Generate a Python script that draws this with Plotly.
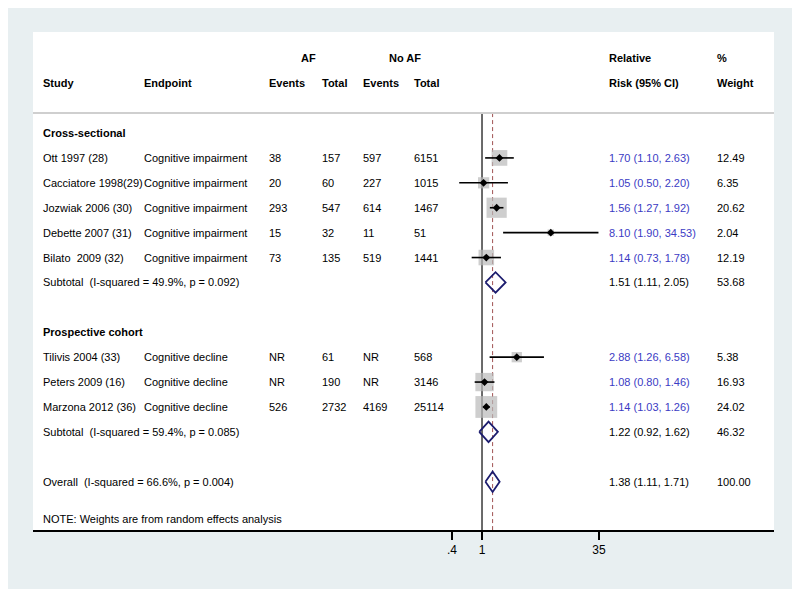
import plotly.graph_objects as go

# ---------------- data ----------------
studies = ["Ott 1997 (28)", "Cacciatore 1998(29)", "Jozwiak 2006 (30)", "Debette 2007 (31)",
           "Bilato\u00a0 2009 (32)", "Tilivis 2004 (33)", "Peters 2009 (16)", "Marzona 2012 (36)"]
endpoints = ["Cognitive impairment"] * 5 + ["Cognitive decline"] * 3
af_events = ["38", "20", "293", "15", "73", "NR", "NR", "526"]
af_total = ["157", "60", "547", "32", "135", "61", "190", "2732"]
noaf_events = ["597", "227", "614", "11", "519", "NR", "NR", "4169"]
noaf_total = ["6151", "1015", "1467", "51", "1441", "568", "3146", "25114"]
rr = [1.70, 1.05, 1.56, 8.10, 1.14, 2.88, 1.08, 1.14]
rr_lo = [1.10, 0.50, 1.27, 1.90, 0.73, 1.26, 0.80, 1.03]
rr_hi = [2.63, 2.20, 1.92, 34.53, 1.78, 6.58, 1.46, 1.26]
weights = [12.49, 6.35, 20.62, 2.04, 12.19, 5.38, 16.93, 24.02]
study_rows = [1, 2, 3, 4, 5, 9, 10, 11]

groups = ["Cross-sectional", "Prospective cohort"]
group_rows = [0, 8]

pooled_labels = ["Subtotal\u00a0 (I-squared = 49.9%, p = 0.092)",
                 "Subtotal\u00a0 (I-squared = 59.4%, p = 0.085)",
                 "Overall\u00a0 (I-squared = 66.6%, p = 0.004)"]
pooled_rr = [1.51, 1.22, 1.38]
pooled_lo = [1.11, 0.92, 1.11]
pooled_hi = [2.05, 1.62, 1.71]
pooled_w = [53.68, 46.32, 100.00]
pooled_rows = [6, 12, 14]

tick_vals = [0.4, 1, 35]
tick_text = [".4", "1", "35"]

# ---------------- layout constants ----------------
OFF = 8                      # page body margin
W, H = 800 - OFF, 597 - OFF
PANEL_L, PANEL_R, PANEL_T, PANEL_B = 33, 774, 32, 530   # window pixel coords
L = PANEL_L - OFF
T = PANEL_T - OFF
R = W - (PANEL_R - OFF)
B = H - (PANEL_B - OFF)
PW = W - L - R
PH = H - T - B
X_RANGE = [-5.931, 3.857]       # log10
Y_RANGE = [15.94, -4.056]       # rows, reversed
BLUE = "#3b3bc4"
NAVY = "#1c1c6e"
GREY_BOX = "#b9b9b9"
FONT = "Liberation Sans, Arial, sans-serif"


def px2paper(px):
    return (px - PANEL_L) / PW


def py2paper(py):
    return (PANEL_B - py) / PH


fig = go.Figure()

# reference lines
fig.add_trace(go.Scatter(x=[1, 1], y=[-0.8, Y_RANGE[0]], mode="lines",
                         line=dict(color="#3a3a3a", width=1.5), hoverinfo="skip"))
fig.add_trace(go.Scatter(x=[pooled_rr[2], pooled_rr[2]], y=[-0.8, Y_RANGE[0]], mode="lines",
                         line=dict(color="#a05252", width=1, dash="4px,3px"), hoverinfo="skip"))

# weight boxes
fig.add_trace(go.Scatter(x=rr, y=study_rows, mode="markers",
                         marker=dict(symbol="square", color=GREY_BOX,
                                     size=[4.45 * w ** 0.5 for w in weights],
                                     line=dict(width=0)),
                         hoverinfo="skip"))

# CI lines
for e, lo, hi, r in zip(rr, rr_lo, rr_hi, study_rows):
    fig.add_trace(go.Scatter(x=[lo, hi], y=[r, r], mode="lines",
                             line=dict(color="black", width=1.6), hoverinfo="skip"))

# point estimates
fig.add_trace(go.Scatter(x=rr, y=study_rows, mode="markers",
                         marker=dict(symbol="diamond", color="black", size=6),
                         hoverinfo="skip"))

# pooled diamonds
for e, lo, hi, r in zip(pooled_rr, pooled_lo, pooled_hi, pooled_rows):
    fig.add_trace(go.Scatter(x=[lo, e, hi, e, lo], y=[r, r - 0.41, r, r + 0.41, r],
                             mode="lines", line=dict(color=NAVY, width=1.8),
                             hoverinfo="skip"))

annotations = []


def txt(px, row, text, bold=False, color="black", anchor="left", size=11):
    annotations.append(dict(
        x=px2paper(px - 1 if anchor == "left" else px), xref="paper", y=row, yref="y",
        text=f"<b>{text}</b>" if bold else text,
        showarrow=False, xanchor=anchor, yanchor="middle",
        font=dict(family=FONT, size=size, color=color), borderpad=0))


# header
txt(308, -3, "AF", bold=True, anchor="center")
txt(405, -3, "No AF", bold=True, anchor="center")
txt(609, -3, "Relative", bold=True)
txt(717, -3, "%", bold=True)
for px, t in zip([43, 144, 269, 322, 363, 414, 609, 717],
                 ["Study", "Endpoint", "Events", "Total", "Events", "Total",
                  "Risk (95% CI)", "Weight"]):
    txt(px, -2, t, bold=True)

for g, r in zip(groups, group_rows):
    txt(43, r, g, bold=True)

for i, r in enumerate(study_rows):
    txt(43, r, studies[i])
    txt(144, r, endpoints[i])
    txt(269, r, af_events[i])
    txt(322, r, af_total[i])
    txt(363, r, noaf_events[i])
    txt(414, r, noaf_total[i])
    txt(609, r, f"{rr[i]:.2f} ({rr_lo[i]:.2f}, {rr_hi[i]:.2f})", color=BLUE)
    txt(717, r, f"{weights[i]:.2f}")

for i, r in enumerate(pooled_rows):
    txt(43, r, pooled_labels[i])
    txt(609, r, f"{pooled_rr[i]:.2f} ({pooled_lo[i]:.2f}, {pooled_hi[i]:.2f})")
    txt(717, r, f"{pooled_w[i]:.2f}")

txt(43, 15.5, "NOTE: Weights are from random effects analysis")

shapes = [
    # outer grey region
    dict(type="rect", xref="paper", yref="paper",
         x0=px2paper(8), x1=px2paper(793), y0=py2paper(589), y1=py2paper(4),
         fillcolor="#e8eff1", line=dict(width=0), layer="below"),
    # white panel
    dict(type="rect", xref="paper", yref="paper", x0=0, x1=1, y0=0, y1=1,
         fillcolor="white", line=dict(width=0), layer="below"),
    # header separator
    dict(type="line", xref="paper", yref="y", x0=0, x1=1, y0=-0.8, y1=-0.8,
         line=dict(color="#cfcfcf", width=2)),
]

fig.update_layout(
    width=W, height=H,
    margin=dict(l=L, r=R, t=T, b=B),
    paper_bgcolor="white", plot_bgcolor="white",
    showlegend=False,
    font=dict(family=FONT, size=11, color="black"),
    annotations=annotations, shapes=shapes,
    xaxis=dict(type="log", range=X_RANGE, showgrid=False, zeroline=False,
               tickvals=tick_vals, ticktext=tick_text, ticks="outside",
               ticklen=8, tickwidth=1.5, tickcolor="black",
               showline=True, linecolor="black", linewidth=1.5,
               tickfont=dict(family=FONT, size=12, color="black"), fixedrange=True),
    yaxis=dict(range=Y_RANGE, visible=False, fixedrange=True),
)

fig.write_html("out.html")
